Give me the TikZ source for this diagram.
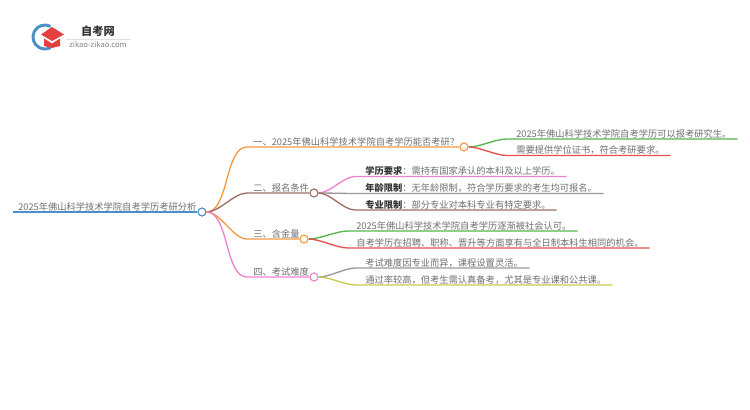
\documentclass[tikz,border=0pt]{standalone}
\usepackage{fontspec}
\setmainfont{Noto Sans CJK SC}
\usepackage{xcolor}
\usetikzlibrary{positioning,calc}
\definecolor{rootblue}{HTML}{4A90C8}
\definecolor{lineorange}{HTML}{F59A42}
\definecolor{linebrown}{HTML}{9C6F63}
\definecolor{linepink}{HTML}{EE82CF}
\definecolor{linegreen}{HTML}{55B54A}
\definecolor{linered}{HTML}{E5504F}
\definecolor{linegray}{HTML}{999999}
\definecolor{lineyellow}{HTML}{C9CB4E}
\definecolor{textgray}{HTML}{6E6E6E}
\definecolor{logored}{HTML}{E4403F}
\tikzstyle{topic} = [anchor=south west, inner xsep=0pt, inner ysep=1.2pt, align=left, text height=6.6pt, text depth=0pt, font=\fontsize{6.95}{8}\selectfont, text=textgray]
\tikzstyle{dot} = [circle, draw, fill=white, line width=0.85pt, minimum size=6pt, inner sep=0pt]
\tikzstyle{line} = [draw, line width=1pt]
\tikzstyle{curve} = [out=0, in=180, looseness=0.75]
\newcommand{\topic}[4]{node (#1)[topic, text width=#2*0.75pt]{\hspace*{\dimexpr #3pt*3/4\relax}#4}}
\newcommand{\dotnode}[2]{node (#1)[dot, draw=#2]{}}
\newcommand{\keyword}[1]{{\bfseries\color[HTML]{333333}#1}}
\begin{document}
\begin{tikzpicture}[x=0.75pt,y=-0.75pt]
	\useasboundingbox (0,0) rectangle (750,410);
	
	% Draw logo
	\draw [line width=2.2pt, color=rootblue] (50.6,26.4) arc (298:62:12);
	\fill [color=logored] (41,34.5) -- (52,27) -- (64,34.5) -- (52,41) -- cycle;
	\fill [color=logored] (44,38.5) -- (52,43.5) -- (60,38.5) -- (60,46) -- (52,48) -- (44,46) -- cycle;
	\node (logotitle) at (98,31) [font=\fontsize{8.4}{9}\selectfont\bfseries, text=black!80, inner sep=0pt] {自考网};
	\node (logourl) at (98,45) [font=\fontsize{5.7}{6}\selectfont, text=black!50, inner sep=0pt] {zikao-zikao.com};
	\draw [color=black!12, line width=0.5pt] (66,39) -- (131,39);
	
	% Draw diagram elements
	\path (13,212) \topic{root}{184}{5}{2025年佛山科学技术学院自考学历考研分析};
	
	\path (247,147) \topic{one}{213}{6}{一、2025年佛山科学技术学院自考学历能否考研？};
	\path (247,193) \topic{two}{63}{6}{二、报名条件};
	\path (247,239) \topic{three}{53}{6}{三、含金量};
	\path (247,277) \topic{four}{63}{6}{四、考试难度};
	
	\path (507,139) \topic{oneA}{230}{9}{2025年佛山科学技术学院自考学历可以报考研究生。};
	\path (507,155.5) \topic{oneB}{163}{9}{需要提供学位证书，符合考研要求。};
	\path (355,176.5) \topic{twoA}{211}{10}{\keyword{学历要求}：需持有国家承认的本科及以上学历。};
	\path (355,193.5) \topic{twoB}{248}{10}{\keyword{年龄限制}：无年龄限制，符合学历要求的考生均可报名。};
	\path (355,210) \topic{twoC}{201}{10}{\keyword{专业限制}：部分专业对本科专业有特定要求。};
	\path (348,231) \topic{threeA}{229}{8}{2025年佛山科学技术学院自考学历逐渐被社会认可。};
	\path (348,248) \topic{threeB}{301}{8}{自考学历在招聘、职称、晋升等方面享有与全日制本科生相同的机会。};
	\path (356,268) \topic{fourA}{173}{9}{考试难度因专业而异，课程设置灵活。};
	\path (356,285) \topic{fourB}{256}{9}{通过率较高，但考生需认真备考，尤其是专业课和公共课。};
	
	\path (202,212) \dotnode{rootdot}{rootblue};
	\path (464,147) \dotnode{onedot}{lineorange};
	\path (314,193) \dotnode{twodot}{linebrown};
	\path (304,239) \dotnode{threedot}{lineorange};
	\path (314,277) \dotnode{fourdot}{linepink};
	
	% Draw connectors
	\path [line, draw=rootblue, line width=1.3pt] (root.south west) -- (rootdot.west);
	\path [line, draw=lineorange] (rootdot.east) to[curve] (one.south west) -- (onedot.west);
	\path [line, draw=linebrown] (rootdot.east) to[curve] (two.south west) -- (twodot.west);
	\path [line, draw=lineorange] (rootdot.east) to[curve] (three.south west) -- (threedot.west);
	\path [line, draw=linepink] (rootdot.east) to[curve] (four.south west) -- (fourdot.west);
	
	\path [line, draw=linegreen] (onedot.east) to[curve] (oneA.south west) -- (oneA.south east);
	\path [line, draw=linered] (onedot.east) to[curve] (oneB.south west) -- (oneB.south east);
	\path [line, draw=linepink] (twodot.east) to[curve] (twoA.south west) -- (twoA.south east);
	\path [line, draw=linegray] (twodot.east) to[curve] (twoB.south west) -- (twoB.south east);
	\path [line, draw=linebrown] (twodot.east) to[curve] (twoC.south west) -- (twoC.south east);
	\path [line, draw=linegreen] (threedot.east) to[curve] (threeA.south west) -- (threeA.south east);
	\path [line, draw=linered] (threedot.east) to[curve] (threeB.south west) -- (threeB.south east);
	\path [line, draw=linegray] (fourdot.east) to[curve] (fourA.south west) -- (fourA.south east);
	\path [line, draw=lineyellow] (fourdot.east) to[curve] (fourB.south west) -- (fourB.south east);
\end{tikzpicture}
\end{document}
